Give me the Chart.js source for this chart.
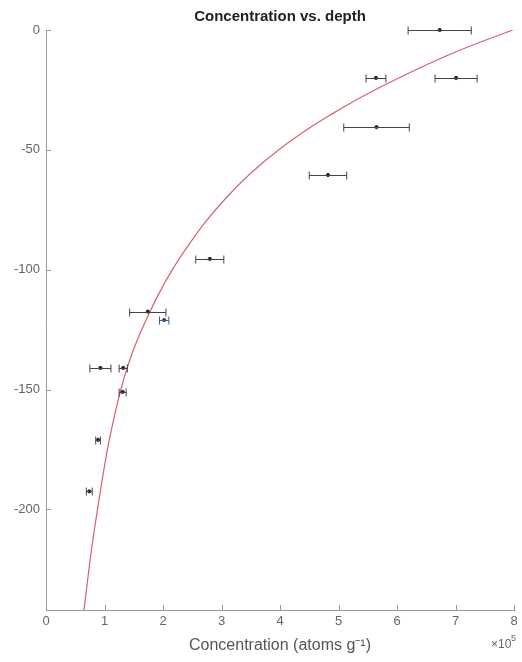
<!DOCTYPE html>
<html>
<head>
<meta charset="utf-8">
<title>Concentration vs. depth</title>
<script src="https://cdn.jsdelivr.net/npm/chart.js@4.4.0/dist/chart.umd.min.js"></script>
<style>
  html, body { margin: 0; padding: 0; background: #fff; }
  #wrap { width: 522px; height: 662px; }
</style>
</head>
<body>
<div id="wrap"><canvas id="depthChart" width="522" height="662"></canvas></div>
<script>
// Concentration in units of 1e5 atoms/g, depth as negative numbers
const sampleDepth = [0, -20, -20, -40.5, -60.5, -95.5, -117.5, -141, -141, -151, -171, -192.5];
const sampleConc  = [6.73, 5.64, 7.01, 5.65, 4.82, 2.80, 1.74, 0.93, 1.32, 1.31, 0.89, 0.74];
const sampleErr   = [0.54, 0.17, 0.36, 0.56, 0.32, 0.24, 0.31, 0.18, 0.07, 0.06, 0.04, 0.05];

// one sample plotted in blue
const blueDepth = [-121];
const blueConc  = [2.02];
const blueErr   = [0.08];

// fitted profile (deepest first)
const curveDepth = [-242, -220, -200, -190, -175, -160, -150, -140, -130, -120, -110, -100, -90, -80, -70, -60, -50, -40, -35, -30, -25, -20, -15, -10, -5, 0];
const curveConc  = [0.65, 0.76, 0.88, 0.945, 1.05, 1.18, 1.28, 1.40, 1.55, 1.73, 1.93, 2.16, 2.43, 2.73, 3.08, 3.49, 3.98, 4.56, 4.89, 5.24, 5.62, 6.03, 6.46, 6.92, 7.43, 7.98];

const xTicks = [0, 1, 2, 3, 4, 5, 6, 7, 8];
const yTicks = [0, -50, -100, -150, -200];

const FONT = '"Liberation Sans", Arial, Helvetica, sans-serif';

function toPoints(xs, ys) {
    return xs.map((v, i) => ({ x: v, y: ys[i] }));
}

// horizontal error bars with small caps
const errorBars = {
    id: 'errorBars',
    afterDatasetsDraw(chart) {
        const { ctx, scales: { x, y } } = chart;
        chart.data.datasets.forEach(ds => {
            if (!ds.errors) return;
            ctx.save();
            ctx.strokeStyle = ds.barColor;
            ctx.lineWidth = 1;
            ds.data.forEach((p, j) => {
                const yy = Math.round(y.getPixelForValue(p.y)) + 0.5;
                const x0 = x.getPixelForValue(p.x - ds.errors[j]);
                const x1 = x.getPixelForValue(p.x + ds.errors[j]);
                ctx.beginPath();
                ctx.moveTo(x0, yy); ctx.lineTo(x1, yy);
                ctx.moveTo(x0, yy - 4); ctx.lineTo(x0, yy + 4);
                ctx.moveTo(x1, yy - 4); ctx.lineTo(x1, yy + 4);
                ctx.stroke();
            });
            ctx.restore();
        });
    }
};

// MATLAB style inward ticks and the x10^5 exponent
const axisExtras = {
    id: 'axisExtras',
    afterDraw(chart) {
        const { ctx, chartArea: a, scales: { x, y } } = chart;
        ctx.save();
        ctx.strokeStyle = '#9a9a9a';
        ctx.lineWidth = 1;
        ctx.beginPath();
        xTicks.forEach(v => {
            const px = Math.round(x.getPixelForValue(v)) + 0.5;
            ctx.moveTo(px, a.bottom); ctx.lineTo(px, a.bottom - 5);
        });
        yTicks.forEach(v => {
            const py = Math.round(y.getPixelForValue(v)) + 0.5;
            ctx.moveTo(a.left, py); ctx.lineTo(a.left + 5, py);
        });
        ctx.stroke();

        ctx.fillStyle = '#666';
        ctx.textBaseline = 'alphabetic';
        ctx.textAlign = 'left';
        ctx.font = '12px ' + FONT;
        ctx.fillText('\u00d710', 491, 648);
        ctx.font = '9px ' + FONT;
        ctx.fillText('5', 511, 641);
        ctx.restore();
    }
};

new Chart(document.getElementById('depthChart'), {
    type: 'scatter',
    data: {
        datasets: [
            {
                label: 'Fit',
                type: 'line',
                data: toPoints(curveConc, curveDepth),
                borderColor: '#d9606e',
                borderWidth: 1.2,
                pointRadius: 0,
                cubicInterpolationMode: 'monotone',
                fill: false,
                order: 2
            },
            {
                label: 'Samples',
                data: toPoints(sampleConc, sampleDepth),
                errors: sampleErr,
                barColor: '#444',
                backgroundColor: '#222',
                borderColor: '#222',
                pointRadius: 1.6,
                clip: false,
                order: 1
            },
            {
                label: 'Sample (blue)',
                data: toPoints(blueConc, blueDepth),
                errors: blueErr,
                barColor: '#3d5a99',
                backgroundColor: '#2b3f6b',
                borderColor: '#2b3f6b',
                pointRadius: 1.6,
                clip: false,
                order: 1
            }
        ]
    },
    options: {
        responsive: false,
        animation: false,
        layout: { padding: { top: 0, right: 8, bottom: 0, left: 0 } },
        plugins: {
            legend: { display: false },
            tooltip: { enabled: false },
            title: {
                display: true,
                fullSize: false,
                text: 'Concentration vs. depth',
                color: '#222',
                font: { family: FONT, size: 15, weight: 'bold' },
                padding: { top: 8, bottom: 4 }
            }
        },
        scales: {
            x: {
                type: 'linear',
                min: 0,
                max: 8,
                afterBuildTicks: s => { s.ticks = xTicks.map(v => ({ value: v })); },
                afterFit: s => { s.height = 52; },
                grid: { display: false, drawTicks: false },
                border: { display: true, color: '#9a9a9a', width: 1 },
                ticks: {
                    color: '#666',
                    padding: 4,
                    maxRotation: 0,
                    font: { family: FONT, size: 13 }
                },
                title: {
                    display: true,
                    text: 'Concentration (atoms g\u207b\u00b9)',
                    color: '#555',
                    font: { family: FONT, size: 16 },
                    padding: { top: 2, bottom: 7 }
                }
            },
            y: {
                type: 'linear',
                min: -242,
                max: 0,
                afterBuildTicks: s => { s.ticks = yTicks.map(v => ({ value: v })); },
                afterFit: s => { s.width = 46; },
                grid: { display: false, drawTicks: false },
                border: { display: true, color: '#9a9a9a', width: 1 },
                ticks: {
                    color: '#666',
                    padding: 6,
                    font: { family: FONT, size: 13 }
                }
            }
        }
    },
    plugins: [errorBars, axisExtras]
});
</script>
</body>
</html>
